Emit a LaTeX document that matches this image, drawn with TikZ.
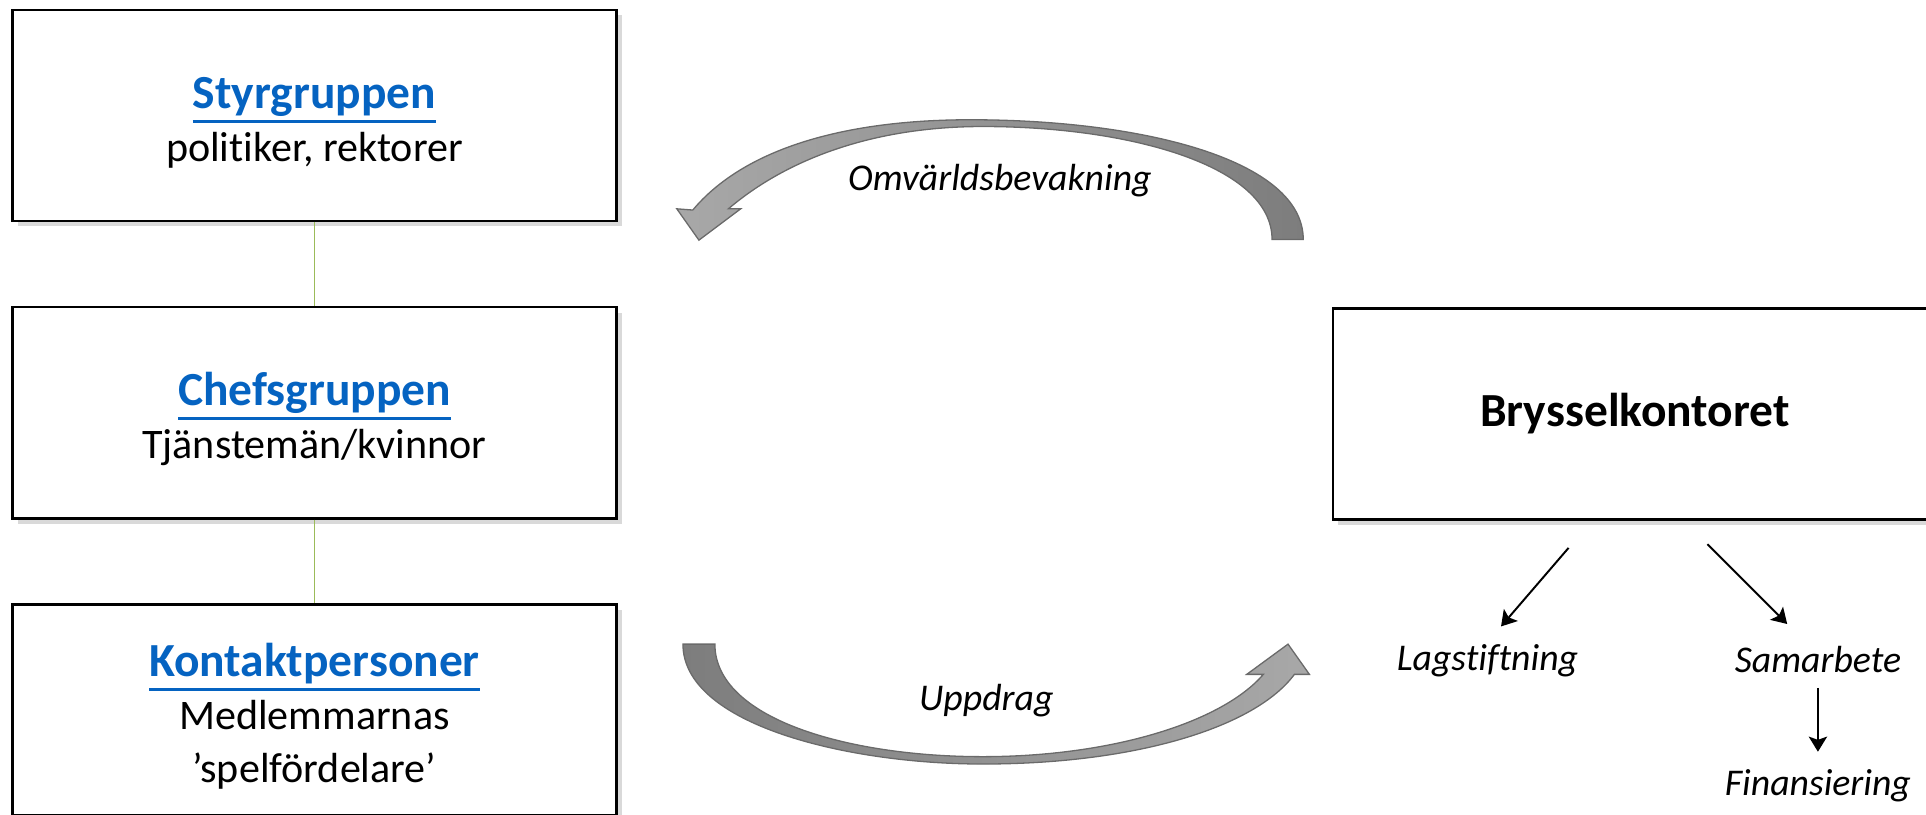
\documentclass[tikz,border=0pt]{standalone}
\usepackage{fontspec}
\setmainfont{Carlito}[Ligatures=NoCommon]
\usetikzlibrary{arrows.meta,shadows}

\definecolor{linkblue}{RGB}{5,99,193}
\definecolor{treegreen}{RGB}{155,187,89}
\definecolor{arrowlight}{RGB}{168,168,168}
\definecolor{arrowdark}{RGB}{125,125,125}
\newcommand{\grouptitle}[1]{{\fontsize{22}{24.5}\selectfont\bfseries\color{linkblue}%
    \setbox0\hbox{#1}\leavevmode\rule{0pt}{21pt}\rlap{\rule[-6.6pt]{\wd0}{1.3pt}}\box0}}

\tikzset{
    orgbox/.style={draw, line width=1.2pt, fill=white, minimum width=9.84cm, minimum height=3.44cm,
        align=center, font=\fontsize{19.5}{24.5}\selectfont,
        drop shadow={shadow xshift=2.5pt, shadow yshift=-2.5pt, fill=black, opacity=.15}},
    area/.style={font=\fontsize{17.5}{21}\selectfont\itshape},
    smallarrow/.style={-{Stealth[length=7pt,width=8.5pt,inset=1.5pt]}, line width=.9pt},
    bigarrow/.style={draw=arrowdark!85!black, line width=.6pt},
}

\begin{document}
\begin{tikzpicture}[x=0.02cm,y=-0.02cm]
    \useasboundingbox (0,0) rectangle (1568,663);
    % organisationen
    \node [orgbox] (styr) at (256,94) {\grouptitle{Styrgruppen}\\politiker, rektorer};
    \node [orgbox] (chef) at (256,336) {\grouptitle{Chefsgruppen}\\Tjänstemän/kvinnor};
    \node [orgbox] (kontakt) at (256,578) {\grouptitle{Kontaktpersoner}\\Medlemmarnas\\’spelfördelare’};
    \draw [treegreen,line width=.7pt] (styr.south) -- (chef.north);
    \draw [treegreen,line width=.7pt] (chef.south) -- (kontakt.north);
    % kontoret
    \node [orgbox,font=\fontsize{22}{24.5}\selectfont\bfseries] (brussel) at (1331,337) {Brysselkontoret};
    \node [area] (lag) at (1211,538) {Lagstiftning};
    \node [area] (samarbete) at (1480,537) {Samarbete};
    \node [area] (finans) at (1480,640) {Finansiering};
    \draw [smallarrow] ([shift={(-54,22)}]brussel.south) -- ([shift={(11,-28)}]lag.center);
    \draw [smallarrow] ([shift={(59,19)}]brussel.south) -- ([shift={(-25,-29)}]samarbete.center);
    \draw [smallarrow] ([shift={(0,23)}]samarbete.center) -- ([shift={(0,-28)}]finans.center);
    % de böjda pilarna
    \draw [bigarrow,left color=arrowlight,right color=arrowdark] (1061,195) .. controls (1061,130) and (930,97.5) .. (790,97.5)
        .. controls (685,97.5) and (605,122) .. (564,171) -- (551,170) -- (569,195.5) -- (603,170) -- (593,170)
        .. controls (640,130) and (710,103) .. (800,103) .. controls (920,103) and (1035.6,135) .. (1035.6,195) -- cycle;
    \draw [bigarrow,left color=arrowdark,right color=arrowlight] (556,524.4) .. controls (556,590) and (690,622) .. (800,622)
        .. controls (925,622) and (1022,592) .. (1053.8,549) -- (1066,549) -- (1048.6,524.4) -- (1015,549) -- (1028.5,549)
        .. controls (995,588) and (905,616) .. (800,616) .. controls (690,616) and (582,585) .. (582,524.4) -- cycle;
    \node [area] (omv) at (814,147) {Omvärldsbevakning};
    \node [area] (uppdrag) at (803,570) {Uppdrag};
\end{tikzpicture}
\end{document}
